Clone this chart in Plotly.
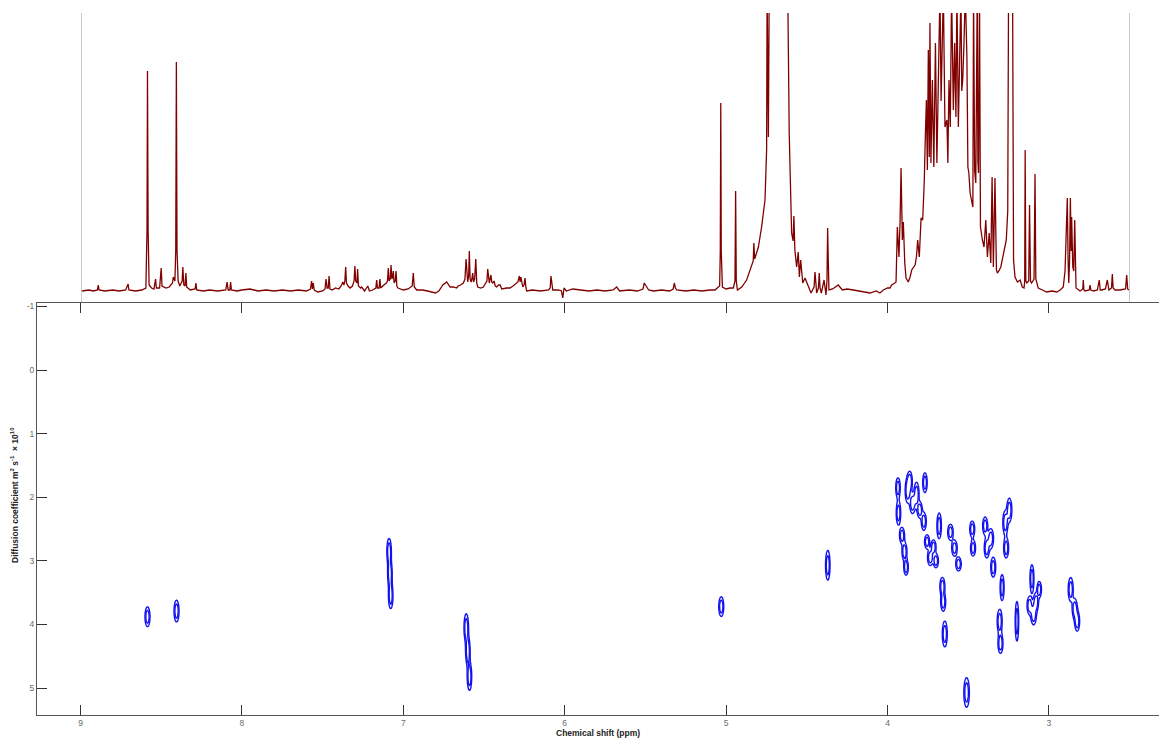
import numpy as np
import plotly.graph_objects as go

# ---------------- 1D spectrum (chemical shift ppm, intensity a.u.) ----------------
spec_ppm = [8.99, 8.95, 8.92, 8.895, 8.89, 8.885, 8.85, 8.80, 8.76, 8.72, 8.705, 8.70, 8.66, 8.62, 8.595,
            8.588, 8.585, 8.581, 8.575, 8.56, 8.545, 8.535, 8.530, 8.51, 8.50, 8.495, 8.47, 8.45, 8.43, 8.425,
            8.415, 8.41, 8.406, 8.402, 8.395, 8.385, 8.37, 8.366, 8.360, 8.352, 8.347, 8.342, 8.32, 8.29, 8.285,
            8.28, 8.24, 8.20, 8.15, 8.10, 8.092, 8.085, 8.075, 8.070, 8.065, 8.03, 8.00, 7.95, 7.90, 7.85,
            7.80, 7.75, 7.70, 7.65, 7.60, 7.575, 7.568, 7.563, 7.558, 7.552, 7.53, 7.50, 7.485, 7.479, 7.472,
            7.465, 7.460, 7.454, 7.44, 7.42, 7.40, 7.385, 7.375, 7.368, 7.362, 7.357, 7.352, 7.342, 7.33, 7.315,
            7.305, 7.300, 7.295, 7.287, 7.283, 7.278, 7.265, 7.258, 7.24, 7.22, 7.21, 7.19, 7.17, 7.165, 7.16,
            7.150, 7.145, 7.14, 7.12, 7.105, 7.098, 7.093, 7.088, 7.081, 7.076, 7.071, 7.066, 7.062, 7.057, 7.050,
            7.045, 7.040, 7.033, 7.00, 6.97, 6.945, 6.938, 6.932, 6.917, 6.88, 6.85, 6.80, 6.78, 6.755, 6.731,
            6.71, 6.69, 6.67, 6.66, 6.645, 6.628, 6.618, 6.611, 6.605, 6.601, 6.595, 6.591, 6.586, 6.58, 6.575,
            6.570, 6.565, 6.558, 6.551, 6.545, 6.539, 6.52, 6.504, 6.49, 6.482, 6.477, 6.472, 6.467, 6.462, 6.457,
            6.452, 6.446, 6.438, 6.43, 6.421, 6.41, 6.40, 6.39, 6.36, 6.339, 6.32, 6.302, 6.29, 6.281, 6.276,
            6.271, 6.265, 6.26, 6.252, 6.246, 6.24, 6.235, 6.20, 6.15, 6.10, 6.09, 6.085, 6.079, 6.074, 6.04,
            6.02, 6.012, 6.004, 5.99, 5.95, 5.90, 5.85, 5.80, 5.75, 5.70, 5.678, 5.66, 5.60, 5.55, 5.515,
            5.507, 5.500, 5.492, 5.48, 5.45, 5.40, 5.35, 5.328, 5.321, 5.314, 5.306, 5.25, 5.20, 5.15, 5.10,
            5.069, 5.048, 5.04, 5.036, 5.033, 5.030, 5.023, 5.00, 4.976, 4.955, 4.945, 4.941, 4.937, 4.93, 4.903,
            4.873, 4.842, 4.832, 4.828, 4.823, 4.819, 4.80, 4.78, 4.759, 4.749, 4.746, 4.738, 4.733, 4.618, 4.609,
            4.594, 4.585, 4.580, 4.574, 4.563, 4.553, 4.546, 4.538, 4.525, 4.511, 4.49, 4.474, 4.455, 4.449, 4.439,
            4.428, 4.423, 4.418, 4.41, 4.393, 4.381, 4.375, 4.371, 4.367, 4.363, 4.34, 4.305, 4.28, 4.25, 4.212,
            4.17, 4.108, 4.07, 4.047, 4.026, 4.00, 3.985, 3.974, 3.955, 3.947, 3.939, 3.934, 3.929, 3.922, 3.916,
            3.908, 3.902, 3.893, 3.885, 3.871, 3.86, 3.85, 3.84, 3.829, 3.82, 3.813, 3.803, 3.792, 3.782, 3.772,
            3.765, 3.759, 3.753, 3.747, 3.741, 3.737, 3.731, 3.722, 3.713, 3.703, 3.694, 3.685, 3.675, 3.668, 3.662,
            3.654, 3.644, 3.632, 3.626, 3.619, 3.611, 3.603, 3.592, 3.584, 3.576, 3.570, 3.561, 3.551, 3.545, 3.540,
            3.534, 3.526, 3.518, 3.508, 3.502, 3.496, 3.488, 3.48, 3.471, 3.467, 3.460, 3.453, 3.444, 3.440, 3.436,
            3.43, 3.424, 3.412, 3.402, 3.391, 3.381, 3.37, 3.36, 3.352, 3.344, 3.334, 3.325, 3.319, 3.31, 3.298,
            3.285, 3.277, 3.264, 3.255, 3.250, 3.236, 3.225, 3.219, 3.21, 3.195, 3.178, 3.165, 3.154, 3.150, 3.147,
            3.143, 3.137, 3.125, 3.12, 3.114, 3.107, 3.092, 3.086, 3.081, 3.076, 3.066, 3.04, 3.014, 2.98, 2.952,
            2.93, 2.911, 2.90, 2.896, 2.886, 2.881, 2.877, 2.872, 2.867, 2.862, 2.859, 2.852, 2.846, 2.84, 2.835,
            2.832, 2.807, 2.79, 2.787, 2.783, 2.776, 2.75, 2.745, 2.74, 2.725, 2.70, 2.688, 2.682, 2.673, 2.65,
            2.638, 2.632, 2.628, 2.612, 2.607, 2.602, 2.59, 2.56, 2.525, 2.518, 2.512, 2.504]

spec_int = [0, 1, 0, 1, 6, 1, 0, 1, 0, 1, 7, 1, 0, 1, 3,
            60, 220, 60, 6, 3, 2, 12, 3, 3, 23, 5, 3, 4, 8, 14,
            10, 40, 229, 40, 10, 5, 10, 24, 6, 5, 18, 4, 1, 2, 8,
            1, 0, 1, 0, 1, 9, 1, 1, 9, 1, 0, 1, 2, 0, 1,
            0, 1, 0, 1, 0, 2, 10, 2, 8, 1, -1, 0, 2, 12, 3,
            3, 15, 2, 1, 3, 2, 5, 9, 6, 10, 24, 8, 5, 3, 5,
            10, 25, 10, 8, 22, 5, 3, 4, 0, 5, 0, 1, 3, 11, 3,
            3, 12, 3, 6, 8, 10, 23, 10, 12, 26, 12, 14, 20, 8, 10,
            20, 5, 3, 1, 2, 5, 18, 4, 1, 1, 0, -2, 0, 6, 9,
            4, 4, 3, 5, 6, 8, 12, 32, 12, 9, 15, 40, 12, 9, 12,
            18, 9, 12, 32, 8, 4, 3, 4, 8, 10, 22, 9, 8, 12, 16,
            9, 8, 10, 5, 4, 6, 6, 2, 3, 3, 5, 8, 9, 15, 9,
            14, 5, 4, 6, 13, 3, 0, 1, 0, 1, 3, 15, 3, 1, 1,
            0, -7, 3, 0, 2, 1, 0, 1, 0, 1, 4, 0, 1, 0, 2,
            8, 6, 5, 1, 0, 1, 0, 2, 8, 3, 1, 0, 1, 0, 1,
            1, 4, 5, 40, 188, 40, 4, 2, 3, 3, 10, 100, 10, 1, 4,
            11, 24, 30, 48, 32, 34, 44, 64, 91, 141, 300, 154, 300, 300, 158,
            58, 50, 75, 41, 24, 39, 14, 31, 8, 13, 4, -2, 4, 19, -2,
            3, 18, 3, -2, 11, -4, 10, 63, 10, 1, 2, 6, 1, 2, 1,
            0, -2, 0, -2, 1, 3, 3, 6, 8, 9, 64, 40, 34, 71, 123,
            51, 69, 28, 13, 9, 14, 21, 24, 26, 35, 51, 34, 73, 71, 111,
            158, 191, 121, 241, 134, 268, 128, 211, 124, 248, 128, 204, 300, 190, 224,
            300, 164, 171, 128, 211, 164, 300, 181, 248, 174, 300, 164, 241, 300, 200,
            211, 248, 300, 234, 124, 118, 98, 91, 84, 300, 120, 108, 300, 130, 118,
            300, 64, 51, 44, 71, 34, 58, 28, 114, 24, 113, 21, 18, 20, 24,
            35, 40, 51, 80, 300, 300, 300, 31, 14, 9, 11, 4, 3, 10, 141,
            10, 8, 10, 86, 10, 8, 12, 117, 12, 9, 3, 1, -1, 0, -1,
            1, 4, 20, 41, 93, 30, 8, 30, 93, 40, 74, 24, 20, 71, 15,
            3, 0, 2, 11, 1, 0, 1, 6, 1, 0, 1, 11, 1, 1, 2,
            11, 2, 1, 3, 17, 3, 1, 1, 2, 16, 2, 1]

# ---------------- DOSY peaks: chemical shift (ppm), diffusion coefficient, widths ----------------
dosy_ppm = [8.585, 8.405, 7.088, 7.083, 7.078, 6.610, 6.600, 6.590, 5.030, 4.370, 3.510,
            3.935, 3.932, 3.910, 3.895, 3.885, 3.875, 3.862, 3.845, 3.820, 3.800, 3.768, 3.775,
            3.755, 3.735, 3.715, 3.700, 3.680, 3.660, 3.655, 3.645, 3.610, 3.585, 3.560, 3.475,
            3.470, 3.395, 3.385, 3.360, 3.345, 3.305, 3.300, 3.290, 3.270, 3.265, 3.245, 3.198,
            3.105, 3.120, 3.095, 3.080, 3.060, 2.865, 2.840, 2.825]
dosy_D = [3.88, 3.79, 2.85, 3.20, 3.55, 4.05, 4.42, 4.82, 3.72, 3.07, 5.07,
          1.85, 2.25, 2.60, 2.85, 3.10, 1.90, 1.75, 2.10, 1.95, 2.20, 1.77, 2.38,
          2.70, 2.95, 2.78, 3.00, 2.45, 3.40, 3.65, 4.15, 2.55, 2.80, 3.05, 2.50,
          2.80, 2.45, 2.80, 2.65, 3.10, 3.95, 4.30, 3.42, 2.40, 2.80, 2.20, 3.95,
          3.28, 3.70, 3.85, 3.65, 3.45, 3.45, 3.75, 3.95]
dosy_w_ppm = [0.010, 0.010, 0.009, 0.009, 0.009, 0.009, 0.009, 0.009, 0.010, 0.009, 0.011,
              0.009, 0.009, 0.010, 0.010, 0.009, 0.010, 0.010, 0.011, 0.010, 0.010, 0.009, 0.010,
              0.010, 0.011, 0.010, 0.010, 0.009, 0.010, 0.010, 0.010, 0.011, 0.011, 0.011, 0.010,
              0.010, 0.010, 0.010, 0.011, 0.010, 0.010, 0.010, 0.008, 0.010, 0.010, 0.010, 0.007,
              0.008, 0.010, 0.011, 0.010, 0.009, 0.010, 0.010, 0.010]
dosy_w_D = [0.10, 0.11, 0.13, 0.13, 0.13, 0.14, 0.14, 0.14, 0.10, 0.15, 0.15,
            0.10, 0.12, 0.08, 0.09, 0.08, 0.12, 0.10, 0.10, 0.12, 0.08, 0.10, 0.09,
            0.07, 0.08, 0.07, 0.07, 0.13, 0.09, 0.09, 0.13, 0.08, 0.08, 0.07, 0.08,
            0.08, 0.09, 0.10, 0.10, 0.10, 0.12, 0.10, 0.13, 0.12, 0.10, 0.12, 0.20,
            0.14, 0.09, 0.10, 0.09, 0.08, 0.12, 0.10, 0.10]

x_tick_vals = [9, 8, 7, 6, 5, 4, 3]
x_tick_text = ["9", "8", "7", "6", "5", "4", "3"]
y_tick_vals = [-1, 0, 1, 2, 3, 4, 5]
y_tick_text = ["-1", "0", "1", "2", "3", "4", "5"]

W, H = 1159, 740
FONT = "Liberation Sans, Arial, sans-serif"
BLUE = "rgb(18,18,240)"
RED = "#800000"

fig = go.Figure()

# spectrum (top panel)
fig.add_trace(go.Scatter(x=spec_ppm, y=spec_int, mode="lines", line=dict(color=RED, width=1.3),
                         xaxis="x2", yaxis="y2", hoverinfo="skip", showlegend=False))

# DOSY contours, grouped into clusters along the shift axis
order = np.argsort(dosy_ppm)[::-1]
groups, cur = [], [order[0]]
for i in order[1:]:
    if dosy_ppm[cur[-1]] - dosy_ppm[i] > 0.1:
        groups.append(cur)
        cur = [i]
    else:
        cur.append(i)
groups.append(cur)

for g in groups:
    px = np.array([dosy_ppm[i] for i in g])
    pd_ = np.array([dosy_D[i] for i in g])
    sx = np.array([dosy_w_ppm[i] for i in g])
    sy = np.array([dosy_w_D[i] for i in g])
    xg = np.arange(px.min() - 0.06, px.max() + 0.06, 0.002)
    yg = np.arange(pd_.min() - 0.7, pd_.max() + 0.7, 0.01)
    X, Y = np.meshgrid(xg, yg)
    Z = np.zeros_like(X)
    for a, b, c, d in zip(px, pd_, sx, sy):
        Z += np.exp(-((X - a) ** 2 / (2 * c * c) + (Y - b) ** 2 / (2 * d * d)))
    fig.add_trace(go.Contour(x=xg, y=yg, z=Z.astype(np.float32), autocontour=False,
                             contours=dict(coloring="lines", start=0.3, end=0.62, size=0.3),
                             colorscale=[[0, BLUE], [1, BLUE]], line=dict(width=1.4, smoothing=1),
                             showscale=False, hoverinfo="skip", xaxis="x", yaxis="y"))

def px2ppm(x):
    return 9 - (x - 80.5) / 161.4

def px2D(y):
    return (y - 370) / 63.6

fig.update_layout(
    width=W, height=H, margin=dict(l=0, r=0, t=0, b=0),
    paper_bgcolor="white", plot_bgcolor="rgba(0,0,0,0)",
    font=dict(family=FONT, size=8.5, color="#6a6a6a"),
    showlegend=False,
    xaxis=dict(domain=[37 / W, 1.0], range=[px2ppm(37), px2ppm(1159)],
               tickvals=x_tick_vals, ticktext=x_tick_text, ticks="inside", ticklen=10,
               tickcolor="#333333", tickwidth=1, showline=True, linecolor="#555555", linewidth=1,
               mirror="ticks", showgrid=False, zeroline=False, tickfont=dict(size=8.5, color="#6a6a6a")),
    yaxis=dict(domain=[(H - 715) / H, (H - 302.5) / H], range=[px2D(715), px2D(302.5)],
               tickvals=y_tick_vals, ticktext=y_tick_text, ticks="inside", ticklen=10,
               tickcolor="#333333", tickwidth=1, showline=True, linecolor="#555555", linewidth=1,
               showgrid=False, zeroline=False, tickfont=dict(size=8.5, color="#6a6a6a")),
    xaxis2=dict(domain=[82 / W, 1129 / W], range=[px2ppm(82), px2ppm(1129)], visible=False,
                anchor="y2"),
    yaxis2=dict(domain=[(H - 301.5) / H, (H - 13) / H], range=[-10.5, 278], anchor="x2",
                showline=True, mirror=True, linecolor="#c8c8c8", linewidth=1, ticks="",
                showticklabels=False, showgrid=False, zeroline=False),
    annotations=[
        dict(text="<b>Chemical shift (ppm)</b>", x=598 / W, y=(H - 733) / H, xref="paper", yref="paper",
             showarrow=False, font=dict(family=FONT, size=8.5, color="#222222"), xanchor="center", yanchor="middle"),
        dict(text="<b>Diffusion coefficient m<sup>2</sup> s<sup>-1</sup>  × 10<sup>10</sup></b>",
             x=15 / W, y=(H - 495) / H, xref="paper", yref="paper", textangle=-90,
             showarrow=False, font=dict(family=FONT, size=8.5, color="#222222"), xanchor="center", yanchor="middle"),
    ],
)

fig.write_html("out.html", config={"displayModeBar": False},
               post_script="document.body.style.margin='0px';document.body.style.padding='0px';")
